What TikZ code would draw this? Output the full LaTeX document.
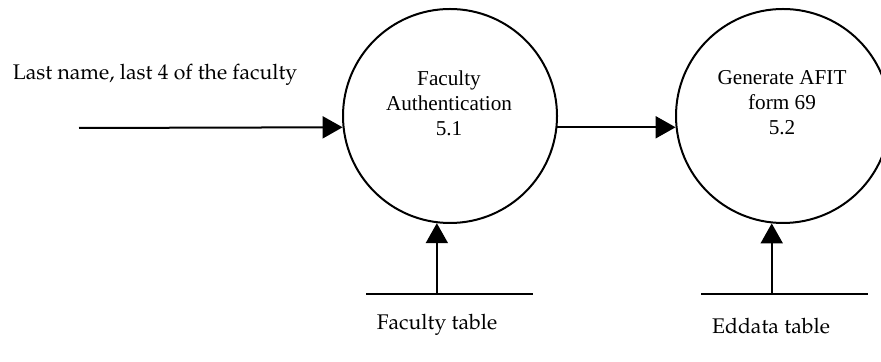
\documentclass[tikz,border=0pt]{standalone}
\usepackage[T1,TU]{fontenc}
\usepackage{fontspec}
\newfontfamily\procfont{Liberation Serif}
\newcommand{\flowfont}{\usefont{T1}{ppl}{m}{n}}
\usetikzlibrary{arrows.meta}

\tikzset{
  process/.style={circle, draw, line width=1pt, minimum size=107pt, inner sep=0pt},
  proctext/.style={align=center, inner sep=0pt, font=\procfont\fontsize{10.6}{12.5}\selectfont},
  flowtext/.style={inner sep=0pt, font=\flowfont\fontsize{10.6}{12.5}\selectfont},
  flow/.style={line width=1pt, -{Triangle[length=10pt, width=11pt]}},
  store/.style={line width=1pt}
}

\begin{document}
\begin{tikzpicture}[x=0.5pt, y=-0.5pt]
\useasboundingbox (0,0) rectangle (881,362);
% processes
\node[process] (p51) at (450,116) {};
\node[proctext] (p51t) at (449,103) {Faculty\\Authentication\\5.1};
\node[process] (p52) at (783,116) {};
\node[proctext] (p52t) at (782,103) {Generate AFIT\\form 69\\5.2};
% data stores
\coordinate (ftabL) at (366,294);
\coordinate (ftabR) at (533,294);
\draw[store] (ftabL) -- (ftabR);
\node[flowtext] (ftab) at (437,325) {Faculty table};
\coordinate (etabL) at (701,294);
\coordinate (etabR) at (868,294);
\draw[store] (etabL) -- (etabR);
\node[flowtext] (etab) at (771,326) {Eddata table};
% flows
\coordinate (src) at (79,128);
\node[flowtext] (srct) at (155,75) {Last name, last 4 of the faculty};
\draw[flow] (src) -- (p51.186.4);
\draw[flow] (p51.-6.4) -- (p52.186.4);
\draw[flow] (p51.263 |- ftabL) -- (p51.263);
\draw[flow] (p52.264.6 |- etabL) -- (p52.264.6);
\end{tikzpicture}
\end{document}
